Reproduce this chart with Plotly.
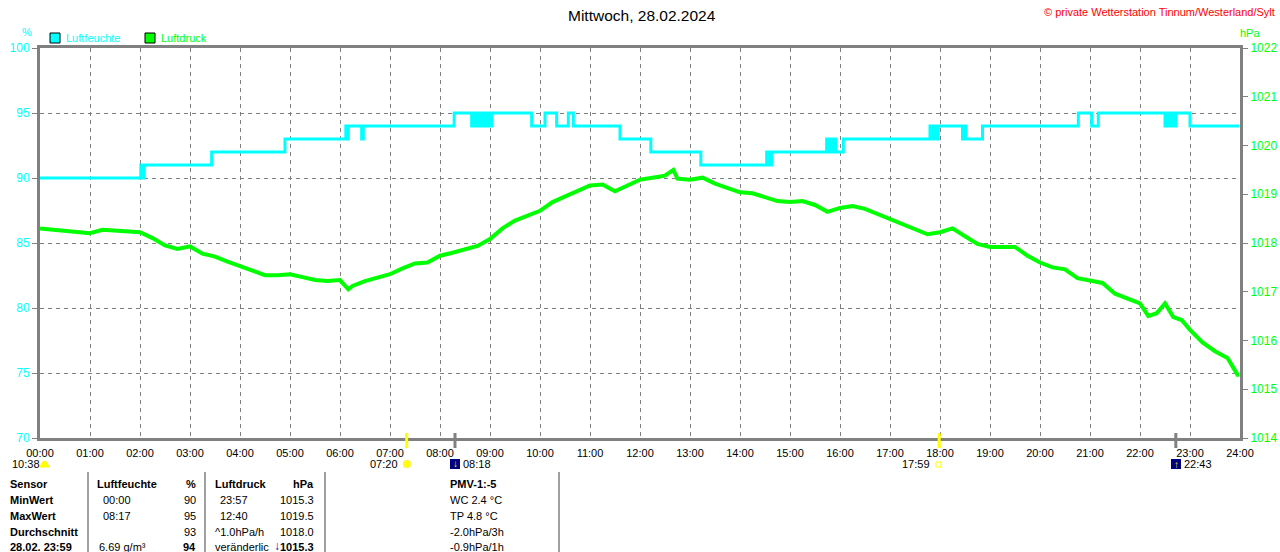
import plotly.graph_objects as go

# Luftfeuchte (%), Zeitpunkte der Wertwechsel
hum_times = ["00:00", "02:01", "02:03", "02:05", "03:26", "04:54", "06:07", "06:08", "06:10",
             "06:26", "06:28", "08:17", "08:38", "08:40", "08:42", "08:45", "08:48", "08:50",
             "08:53", "08:56", "08:59", "09:02", "09:50", "10:06", "10:20", "10:34", "10:40",
             "11:36", "12:13", "13:13", "14:32", "14:35", "14:38", "15:44", "15:46", "15:48",
             "15:51", "15:53", "15:55", "16:04", "17:48", "17:50", "17:53", "17:56", "17:58",
             "18:27", "18:29", "18:31", "18:51", "20:46", "21:02", "21:10", "22:30", "22:32",
             "22:35", "22:38", "22:41", "22:43", "23:00", "23:59"]
hum_values = [90, 91, 90, 91, 92, 93, 94, 93, 94,
              93, 94, 95, 94, 95, 94, 95, 94, 95,
              94, 95, 94, 95, 94, 95, 94, 95, 94,
              93, 92, 91, 92, 91, 92, 93, 92, 93,
              92, 93, 92, 93, 94, 93, 94, 93, 94,
              93, 94, 93, 94, 95, 94, 95, 94, 95,
              94, 95, 94, 95, 94, 94]

# Luftdruck (hPa)
press_times = ["00:00", "00:15", "00:30", "00:45", "01:00", "01:15", "01:30", "01:45", "02:00",
               "02:15", "02:30", "02:45", "03:00", "03:15", "03:30", "03:45", "04:00", "04:15",
               "04:30", "04:45", "05:00", "05:15", "05:30", "05:45", "06:00", "06:10", "06:15",
               "06:30", "06:45", "07:00", "07:15", "07:30", "07:45", "08:00", "08:15", "08:30",
               "08:45", "09:00", "09:15", "09:30", "09:45", "10:00", "10:15", "10:30", "10:45",
               "11:00", "11:15", "11:30", "11:45", "12:00", "12:15", "12:30", "12:40", "12:45",
               "13:00", "13:15", "13:30", "13:45", "14:00", "14:15", "14:30", "14:45", "15:00",
               "15:15", "15:30", "15:45", "16:00", "16:15", "16:30", "16:45", "17:00", "17:15",
               "17:30", "17:45", "18:00", "18:15", "18:30", "18:45", "19:00", "19:15", "19:30",
               "19:45", "20:00", "20:15", "20:30", "20:45", "21:00", "21:15", "21:30", "21:45",
               "22:00", "22:10", "22:20", "22:30", "22:40", "22:50", "23:00", "23:15", "23:30",
               "23:45", "23:57", "23:59"]
press_values = [1018.30, 1018.27, 1018.25, 1018.22, 1018.20, 1018.27, 1018.25, 1018.24, 1018.22,
                1018.10, 1017.95, 1017.88, 1017.93, 1017.78, 1017.72, 1017.62, 1017.52, 1017.42,
                1017.34, 1017.34, 1017.36, 1017.30, 1017.24, 1017.22, 1017.24, 1017.05, 1017.12,
                1017.22, 1017.28, 1017.36, 1017.48, 1017.58, 1017.60, 1017.74, 1017.80, 1017.88,
                1017.94, 1018.08, 1018.30, 1018.46, 1018.56, 1018.66, 1018.84, 1018.96, 1019.08,
                1019.18, 1019.20, 1019.06, 1019.18, 1019.30, 1019.34, 1019.38, 1019.50, 1019.32,
                1019.30, 1019.34, 1019.22, 1019.12, 1019.04, 1019.02, 1018.94, 1018.86, 1018.84,
                1018.86, 1018.78, 1018.64, 1018.72, 1018.76, 1018.70, 1018.60, 1018.48, 1018.40,
                1018.30, 1018.18, 1018.22, 1018.30, 1018.14, 1017.98, 1017.92, 1017.92, 1017.92,
                1017.74, 1017.60, 1017.50, 1017.46, 1017.28, 1017.24, 1017.18, 1016.96, 1016.86,
                1016.76, 1016.50, 1016.56, 1016.76, 1016.48, 1016.42, 1016.22, 1015.96, 1015.78,
                1015.64, 1015.30, 1015.30]

x_ticks = list(range(25))
x_labels = ["%02d:00" % h for h in x_ticks]

# Sonnen- / Mondauf- und -untergang
sun_times = ["07:20", "17:59"]
moon_times = ["08:18", "22:43"]

# Tabelle unten
table_rows = [
    ["Sensor", "Luftfeuchte", "%", "Luftdruck", "hPa", "PMV-1:-5"],
    ["MinWert", "00:00", "90", "23:57", "1015.3", "WC 2.4 °C"],
    ["MaxWert", "08:17", "95", "12:40", "1019.5", "TP 4.8 °C"],
    ["Durchschnitt", "", "93", "^1.0hPa/h", "1018.0", "-2.0hPa/3h"],
    ["28.02. 23:59", "6.69 g/m³", "94", "veränderlic", "1015.3", "-0.9hPa/1h"],
]

CYAN = "#00FFFF"
GREEN = "#00FF00"
GRAY = "#808080"
FONT = "Liberation Sans"


def to_hours(t):
    h, m = t.split(":")
    return int(h) + int(m) / 60.0


# pixel -> paper (Plotbereich 40..1240 x 48..438)
def px(x):
    return (x - 40) / 1200.0


def py(y):
    return (438 - y) / 390.0


fig = go.Figure()
fig.add_trace(go.Scatter(x=[to_hours(t) for t in hum_times], y=hum_values, mode="lines",
                         line=dict(color=CYAN, width=3, shape="hv"), name="Luftfeuchte"))
fig.add_trace(go.Scatter(x=[to_hours(t) for t in press_times], y=press_values, mode="lines",
                         line=dict(color=GREEN, width=4), name="Luftdruck", yaxis="y2"))

shapes = []
annots = []


def text(x, y, s, color="black", size=11, anchor="left", bold=False):
    if bold:
        s = "<b>" + s + "</b>"
    annots.append(dict(x=px(x), y=py(y), xref="paper", yref="paper", text=s, showarrow=False,
                       xanchor=anchor, yanchor="middle",
                       font=dict(family=FONT, size=size, color=color)))


# Titel, Copyright, Achsentitel, Legende
text(642, 15, "Mittwoch, 28.02.2024", size=15.5, anchor="center")
text(1277, 12, "© private Wetterstation Tinnum/Westerland/Sylt", color="#FF0000", anchor="right")
text(27, 32, "%", color=CYAN, anchor="center")
text(1250, 33, "hPa", color=GREEN, anchor="center")
for x0, col, lab in [(50, CYAN, "Luftfeuchte"), (145, GREEN, "Luftdruck")]:
    shapes.append(dict(type="rect", xref="paper", yref="paper", x0=px(x0), x1=px(x0 + 10),
                       y0=py(43), y1=py(33), fillcolor=col, line=dict(color="black", width=1)))
    text(x0 + 14, 38, lab, color=col)

# Markierungen an der Zeitachse
for t in sun_times:
    shapes.append(dict(type="line", xref="x", yref="paper", x0=to_hours(t), x1=to_hours(t),
                       y0=py(433), y1=py(448), line=dict(color="#FFFF00", width=3)))
for t in moon_times:
    shapes.append(dict(type="line", xref="x", yref="paper", x0=to_hours(t), x1=to_hours(t),
                       y0=py(433), y1=py(448), line=dict(color=GRAY, width=3)))

text(10, 464, "10:38")
shapes.append(dict(type="path", xref="paper", yref="paper",
                   path="M %f %f Q %f %f %f %f Z" % (px(40), py(467), px(44.5), py(455), px(49), py(467)),
                   fillcolor="#FFFF00", line=dict(color="#FFFF00", width=1)))
text(400, 464, "07:20", anchor="right")
shapes.append(dict(type="circle", xref="paper", yref="paper", x0=px(403), x1=px(411),
                   y0=py(468), y1=py(460), fillcolor="#FFFF00", line=dict(color="#FFEE88", width=1)))
shapes.append(dict(type="rect", xref="paper", yref="paper", x0=px(450), x1=px(460),
                   y0=py(469), y1=py(459), fillcolor="#000080", line=dict(width=0)))
text(455, 463, "↓", color="#FFFF00", size=10, anchor="center", bold=True)
text(461, 464, "08:18")
text(932, 464, "17:59", anchor="right")
shapes.append(dict(type="rect", xref="paper", yref="paper", x0=px(936), x1=px(941),
                   y0=py(467), y1=py(462), line=dict(color="#FFFF00", width=1)))
shapes.append(dict(type="rect", xref="paper", yref="paper", x0=px(1171), x1=px(1181),
                   y0=py(469), y1=py(459), fillcolor="#000080", line=dict(width=0)))
text(1176, 464, "↑", color="#FFFF00", size=10, anchor="center", bold=True)
text(1182, 464, "22:43")

# Tabelle
for xs in [88, 205, 325, 559]:
    shapes.append(dict(type="line", xref="paper", yref="paper", x0=px(xs), x1=px(xs),
                       y0=py(472), y1=py(552), line=dict(color=GRAY, width=1.5)))
row_y = [484, 500, 516, 532, 547]
for i, row in enumerate(table_rows):
    y = row_y[i]
    head = i == 0
    text(8, y, row[0], bold=True)
    text(101 if i in (1, 2) else 95 if head else 97, y, row[1], bold=head)
    text(198, y, row[2], anchor="right", bold=head or i == 4)
    text(218 if i in (1, 2) else 213, y, row[3], bold=head)
    text(316, y, row[4], anchor="right", bold=head or i == 4)
    text(448, y, row[5], bold=head)
text(277, 546, "↓", color="#0000C0", size=12, anchor="center", bold=True)

grid = dict(showgrid=True, gridcolor=GRAY, griddash="4px,4px", gridwidth=1)
fig.update_layout(
    width=1280, height=552,
    margin=dict(l=40, r=40, t=48, b=114, autoexpand=False),
    paper_bgcolor="white", plot_bgcolor="white",
    showlegend=False,
    font=dict(family=FONT, size=11, color="black"),
    xaxis=dict(range=[0, 24], tickvals=x_ticks, ticktext=x_labels, showline=True,
               linecolor=GRAY, linewidth=3, mirror=True, ticks="", zeroline=False,
               automargin=False, ticklabelstandoff=3,
               tickfont=dict(family=FONT, size=11, color="black"), **grid),
    yaxis=dict(range=[70, 100], dtick=5, showline=True, linecolor=GRAY, linewidth=3,
               ticks="outside", ticklen=5, tickcolor=GRAY, zeroline=False, automargin=False,
               tickfont=dict(family=FONT, size=12, color=CYAN), **grid),
    yaxis2=dict(range=[1014, 1022], dtick=1, overlaying="y", side="right", showline=True,
                linecolor=GRAY, linewidth=3, ticks="outside", ticklen=5, tickcolor=GRAY,
                showgrid=False, zeroline=False, automargin=False,
                tickfont=dict(family=FONT, size=12, color=GREEN)),
    shapes=shapes,
    annotations=annots,
)

fig.write_html("out.html", config={"displayModeBar": False},
               post_script="document.body.style.margin='0px';")
